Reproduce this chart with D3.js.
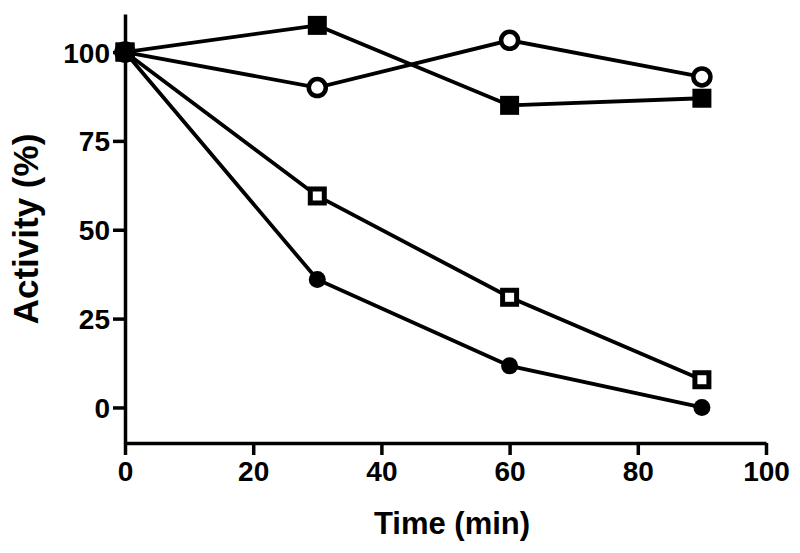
<!DOCTYPE html>
<html>
<head>
<meta charset="utf-8">
<script src="https://cdn.jsdelivr.net/npm/d3@7"></script>
<style>
  html, body { margin: 0; padding: 0; background: #fff; }
  svg { display: block; }
  text { font-family: "Liberation Sans", Arial, sans-serif; font-weight: bold; fill: #000; }
</style>
</head>
<body>
<svg id="chart" width="800" height="553"></svg>
<script>
const times = [0, 30, 60, 90];
const filledSquare = [100, 107.5, 85, 87];
const openCircle = [100, 90, 103.3, 93];
const openSquare = [100, 59.5, 31, 7.8];
const filledCircle = [100, 36, 11.7, 0];
const xTicks = [0, 20, 40, 60, 80, 100];
const yTicks = [0, 25, 50, 75, 100];
const xLabel = "Time (min)";
const yLabel = "Activity (%)";

const series = [
  { name: "filledSquare", values: filledSquare, shape: "square", filled: true },
  { name: "openCircle", values: openCircle, shape: "circle", filled: false },
  { name: "openSquare", values: openSquare, shape: "square", filled: false },
  { name: "filledCircle", values: filledCircle, shape: "circle", filled: true }
];

const svg = d3.select("#chart");
const x = d3.scaleLinear().domain([0, 100]).range([125, 766]);
const y = d3.scaleLinear().domain([-10, 110.7]).range([443, 14]);

// axes
const xAxis = svg.append("g").attr("transform", "translate(0,443)")
  .call(d3.axisBottom(x).tickValues(xTicks).tickSize(12).tickSizeOuter(0).tickPadding(6));
const yAxis = svg.append("g").attr("transform", "translate(125,0)")
  .call(d3.axisLeft(y).tickValues(yTicks).tickSize(12).tickSizeOuter(0).tickPadding(3));
[xAxis, yAxis].forEach(a => {
  a.selectAll("path.domain").attr("stroke", "#000").attr("stroke-width", 3.5);
  a.selectAll(".tick line").attr("stroke", "#000").attr("stroke-width", 3.5);
  a.selectAll(".tick text").attr("font-size", 28).attr("font-family", "Liberation Sans, Arial, sans-serif").attr("font-weight", "bold").attr("fill", "#000");
});
yAxis.selectAll(".tick text").attr("dy", "0.36em");

// titles
svg.append("text").attr("x", 452).attr("y", 534).attr("text-anchor", "middle")
  .attr("font-size", 31).text(xLabel);
svg.append("text").attr("transform", "translate(38,229) rotate(-90)").attr("text-anchor", "middle")
  .attr("font-size", 35).text(yLabel);

// lines
const line = d3.line().x((d, i) => x(times[i])).y(d => y(d));
series.forEach(s => {
  svg.append("path").datum(s.values).attr("d", line)
    .attr("fill", "none").attr("stroke", "#000").attr("stroke-width", 3.8);
});

// markers
series.forEach(s => {
  const g = svg.append("g");
  s.values.forEach((v, i) => {
    const cx = x(times[i]), cy = y(v);
    if (s.shape === "square") {
      const side = 19;
      if (s.filled) {
        g.append("rect").attr("x", cx - side / 2).attr("y", cy - side / 2)
          .attr("width", side).attr("height", side).attr("fill", "#000");
      } else {
        const sw = 5;
        g.append("rect").attr("x", cx - side / 2 + sw / 2).attr("y", cy - side / 2 + sw / 2)
          .attr("width", side - sw).attr("height", side - sw)
          .attr("fill", "#fff").attr("stroke", "#000").attr("stroke-width", sw);
      }
    } else {
      if (s.filled) {
        g.append("circle").attr("cx", cx).attr("cy", cy).attr("r", 8.5).attr("fill", "#000");
      } else {
        g.append("circle").attr("cx", cx).attr("cy", cy).attr("r", 8.5)
          .attr("fill", "#fff").attr("stroke", "#000").attr("stroke-width", 4.5);
      }
    }
  });
});
</script>
</body>
</html>
